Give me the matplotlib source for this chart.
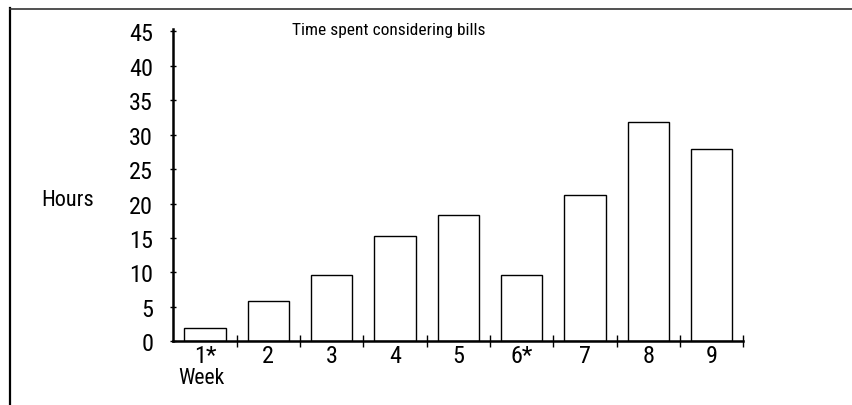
import matplotlib
matplotlib.use("Agg")
import matplotlib.pyplot as plt
from matplotlib.lines import Line2D

weeks = ["1*", "2", "3", "4", "5", "6*", "7", "8", "9"]
hours = [1.9, 5.8, 9.6, 15.3, 18.3, 9.6, 21.3, 31.8, 27.9]
yticks = [0, 5, 10, 15, 20, 25, 30, 35, 40, 45]
title = "Time spent considering bills"
ylabel = "Hours"
xlabel = "Week"

plt.rcParams["font.family"] = ["Roboto Condensed", "DejaVu Sans"]

W, H = 852, 406
fig = plt.figure(figsize=(W / 100, H / 100), dpi=100)
x0, x1 = 173.3, 743.3
y0, y1 = 342.3, 29.5
ax = fig.add_axes([x0 / W, 1 - y0 / H, (x1 - x0) / W, (y0 - y1) / H])

pos = list(range(len(weeks)))
ax.bar(pos, hours, width=0.65, facecolor="white", edgecolor="black", linewidth=1.0)
ax.set_xlim(-0.5, len(weeks) - 0.5)
ax.set_ylim(0, 45.4)

for s in ["top", "right"]:
    ax.spines[s].set_visible(False)
for s in ["left", "bottom"]:
    ax.spines[s].set_linewidth(1.8)

ax.set_yticks(yticks)
ax.set_yticklabels([str(v) for v in yticks], fontsize=17.5)
ax.tick_params(axis="y", direction="inout", length=5, width=1, pad=12)

ax.set_xticks([k + 0.5 for k in range(len(weeks))])
ax.set_xticklabels([])
ax.tick_params(axis="x", which="major", direction="inout", length=9, width=1)
ax.set_xticks(pos, minor=True)
ax.set_xticklabels(weeks, minor=True, fontsize=17.5)
ax.tick_params(axis="x", which="minor", length=0, pad=2)

fig.text(389 / W, 1 - 31 / H, title, fontsize=12.5, ha="center", va="center")
fig.text(68 / W, 1 - 200 / H, ylabel, fontsize=16, ha="center", va="center")
fig.text(201 / W, 1 - 379 / H, xlabel, fontsize=15.5, ha="center", va="center")

fig.add_artist(Line2D([10 / W, 10 / W], [0, 1 - 9 / H], color="black", linewidth=1.6))
fig.add_artist(Line2D([10 / W, 1], [1 - 9.5 / H, 1 - 9.5 / H], color="#333333", linewidth=1.2))

fig.savefig("out.png", dpi=100)
